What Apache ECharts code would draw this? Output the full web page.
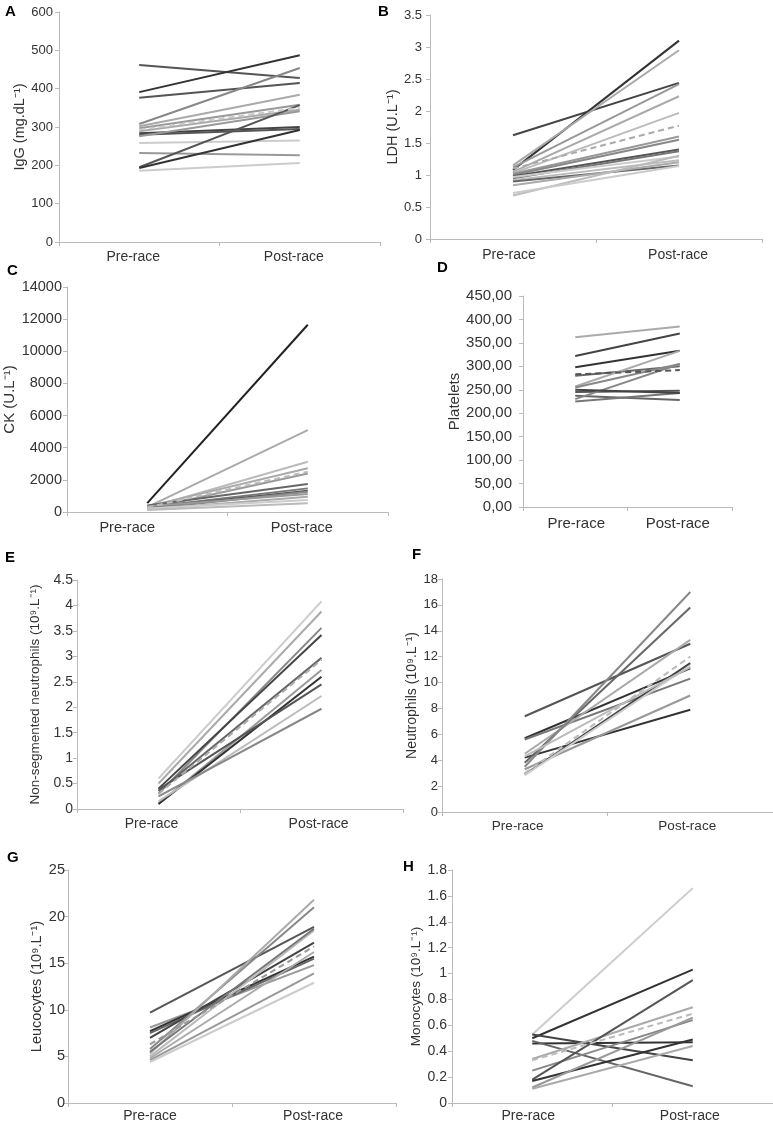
<!DOCTYPE html>
<html>
<head>
<meta charset="utf-8">
<script src="https://cdn.jsdelivr.net/npm/echarts@6/dist/echarts.min.js"></script>
<style>
  html, body { margin: 0; padding: 0; background: #fff; }
  #chart { width: 773px; height: 1130px; }
</style>
</head>
<body>
<div id="chart"></div>
<script>
// ---------- DATA ----------
const categories = ['Pre-race', 'Post-race'];

// A: IgG (mg.dL-1)
const igPre  = [462, 391, 376, 308, 302, 297, 293, 289, 284, 280, 276, 258, 232, 195, 193, 186];
const igPost = [428, 487, 415, 454, 384, 358, 350, 345, 300, 295, 341, 265, 226, 357, 292, 206];

// B: LDH (U.L-1)
const ldhPre  = [1.62, 1.08, 1.15, 1.12, 1.05, 1.03, 1.10, 1.02, 1.00, 0.98, 0.95, 0.97, 0.92, 0.90, 0.84, 0.68, 0.72];
const ldhPost = [2.44, 3.10, 2.95, 2.42, 2.23, 1.97, 1.77, 1.60, 1.55, 1.40, 1.37, 1.29, 1.23, 1.15, 1.20, 1.30, 1.14];

// C: CK (U.L-1)
const ckPre  = [550, 300, 250, 350, 280, 200, 400, 300, 250, 180, 350, 150, 220, 120];
const ckPost = [11650, 5100, 3130, 2720, 2510, 2400, 1740, 1470, 1330, 1260, 1120, 950, 750, 540];

// D: Platelets
const pltPre  = [362, 322, 298, 283, 280, 257, 255, 245, 237, 230, 225, 250];
const pltPost = [385, 370, 333, 292, 300, 333, 305, 248, 228, 305, 243, 243];

// E: Non-segmented neutrophils (10^9.L-1)
const nsnPre  = [0.60, 0.50, 0.30, 0.40, 0.35, 0.30, 0.10, 0.10, 0.38, 0.15, 0.25];
const nsnPost = [4.08, 3.88, 3.56, 3.42, 2.97, 2.93, 2.73, 2.60, 2.45, 2.22, 1.97];

// F: Neutrophils (10^9.L-1)
const neuPre  = [7.4, 5.7, 5.6, 4.5, 4.2, 3.8, 3.5, 3.3, 3.0, 2.9, 2.85, 4.3];
const neuPost = [13.0, 11.1, 10.3, 13.3, 7.9, 15.8, 17.0, 9.0, 12.0, 11.5, 11.3, 11.2];

// G: Leucocytes (10^9.L-1)
const leuPre  = [9.7, 8.1, 7.7, 7.5, 7.0, 5.8, 5.3, 5.0, 4.8, 4.6, 4.4, 5.5, 6.3];
const leuPost = [18.9, 14.8, 15.7, 15.5, 17.2, 21.0, 21.8, 18.5, 16.2, 13.9, 12.9, 18.7, 16.8];

// H: Monocytes (10^9.L-1)
const monPre  = [0.53, 0.50, 0.46, 0.53, 0.48, 0.34, 0.33, 0.25, 0.18, 0.17, 0.12, 0.11];
const monPost = [1.66, 1.03, 0.47, 0.33, 0.13, 0.74, 0.69, 0.64, 0.95, 0.49, 0.66, 0.44];

// ---------- STYLES (line colours, dashed mean line index) ----------
const igColors  = ['#555','#333','#555','#888','#aaa','#999','#c8c8c8','#aaa','#444','#555','#999','#ccc','#999','#555','#333','#ccc'];
const ldhColors = ['#444','#333','#aaa','#999','#aaa','#bbb','#aaa','#999','#888','#555','#777','#ccc','#bbb','#666','#aaa','#bbb','#ccc'];
const ckColors  = ['#222','#aaa','#bbb','#aaa','#bbb','#999','#666','#777','#555','#888','#999','#aaa','#ccc','#bbb'];
const pltColors = ['#aaa','#444','#333','#555','#666','#aaa','#888','#555','#666','#888','#777','#444'];
const nsnColors = ['#ccc','#aaa','#888','#444','#666','#aaa','#999','#333','#555','#bbb','#888'];
const neuColors = ['#555','#333','#777','#aaa','#333','#666','#888','#999','#bbb','#444','#ccc','#bbb'];
const leuColors = ['#555','#999','#333','#666','#444','#888','#aaa','#bbb','#aaa','#999','#ccc','#777','#999'];
const monColors = ['#ccc','#333','#333','#444','#666','#aaa','#bbb','#888','#555','#333','#999','#aaa'];

const FONT = 'Liberation Sans, Arial, Helvetica, sans-serif';

const panels = [
  { letter:'A', lp:[5,12],  name:'IgG (mg.dL⁻¹)', pre:igPre, post:igPost, colors:igColors, dashed:6,
    grid:{left:59, top:12, width:321, height:230}, max:600, interval:100,
    tickFont:13, catFont:14, nameFont:14.5, nameGap:32, labelMargin:6, catMargin:8, shift:[-6,-6] },
  { letter:'B', lp:[378,12], name:'LDH (U.L⁻¹)', pre:ldhPre, post:ldhPost, colors:ldhColors, dashed:6,
    grid:{left:430, top:15, width:332, height:224}, max:3.5, interval:0.5,
    tickFont:13, catFont:14, nameFont:14.5, nameGap:30, labelMargin:8, catMargin:9, shift:[-4,-1] },
  { letter:'C', lp:[7,271], name:'CK (U.L⁻¹)', pre:ckPre, post:ckPost, colors:ckColors, dashed:4,
    grid:{left:67, top:287, width:321, height:225}, max:14000, interval:2000,
    tickFont:14.5, catFont:14.5, nameFont:15, nameGap:46, labelMargin:5, catMargin:8, shift:[-20,-6],
    fmt: v => String(v) },
  { letter:'D', lp:[437,268], name:'Platelets', pre:pltPre, post:pltPost, colors:pltColors, dashed:3,
    grid:{left:523, top:296, width:209, height:211}, max:450, interval:50,
    tickFont:15, catFont:15, nameFont:15, nameGap:61, labelMargin:11, catMargin:9, shift:[1,-2],
    fmt: v => v.toFixed(2).replace('.', ',') },
  { letter:'E', lp:[5,558], name:'Non-segmented neutrophils (10⁹.L⁻¹)', pre:nsnPre, post:nsnPost, colors:nsnColors, dashed:5,
    grid:{left:77, top:580, width:326, height:229}, max:4.5, interval:0.5,
    tickFont:14, catFont:14, nameFont:13.5, nameGap:35, labelMargin:4, catMargin:8, shift:[-7,-3] },
  { letter:'F', lp:[412,555], name:'Neutrophils (10⁹.L⁻¹)', pre:neuPre, post:neuPost, colors:neuColors, dashed:8,
    grid:{left:442, top:579, width:332, height:233}, max:18, interval:2,
    tickFont:13, catFont:13.5, nameFont:14, nameGap:21, labelMargin:4, catMargin:7, shift:[-7,-3] },
  { letter:'G', lp:[7,858], name:'Leucocytes (10⁹.L⁻¹)', pre:leuPre, post:leuPost, colors:leuColors, dashed:12,
    grid:{left:68, top:870, width:328, height:233}, max:25, interval:5,
    tickFont:14.5, catFont:14, nameFont:14.5, nameGap:21, labelMargin:3, catMargin:6, shift:[0,-1] },
  { letter:'H', lp:[403,867], name:'Monocytes (10⁹.L⁻¹)', pre:monPre, post:monPost, colors:monColors, dashed:6,
    grid:{left:452, top:870, width:326, height:233}, max:1.8, interval:0.2,
    tickFont:14, catFont:14, nameFont:13.5, nameGap:26, labelMargin:5, catMargin:6, shift:[-4,-3] }
];

function pad(s) { return s < 0 ? [0, -2 * s, 0, 0] : [0, 0, 0, 2 * s]; }

const grids = [], xAxes = [], yAxes = [], series = [], graphics = [];
panels.forEach((p, k) => {
  grids.push(Object.assign({ containLabel: false }, p.grid));
  xAxes.push({
    type: 'category', gridIndex: k, data: categories, boundaryGap: true,
    axisLine: { lineStyle: { color: '#bbb', width: 1 } },
    axisTick: { show: true, length: 4, lineStyle: { color: '#bbb' } },
    axisLabel: {
      interval: 0, margin: p.catMargin, color: '#333', fontFamily: FONT, fontSize: p.catFont,
      formatter: (v, i) => '{s' + i + '|' + v + '}',
      rich: {
        s0: { padding: pad(p.shift[0]), fontSize: p.catFont, fontFamily: FONT, color: '#333' },
        s1: { padding: pad(p.shift[1]), fontSize: p.catFont, fontFamily: FONT, color: '#333' }
      }
    }
  });
  yAxes.push({
    type: 'value', gridIndex: k, min: 0, max: p.max, interval: p.interval,
    axisLine: { show: true, lineStyle: { color: '#bbb', width: 1 } },
    axisTick: { show: true, length: 4, lineStyle: { color: '#bbb' } },
    splitLine: { show: false },
    axisLabel: { margin: p.labelMargin, color: '#333', fontFamily: FONT, fontSize: p.tickFont,
                 formatter: p.fmt ? p.fmt : undefined },
    name: p.name, nameLocation: 'middle', nameGap: p.nameGap,
    nameTextStyle: { color: '#333', fontFamily: FONT, fontSize: p.nameFont }
  });
  p.pre.forEach((v, i) => {
    series.push({
      type: 'line', xAxisIndex: k, yAxisIndex: k, data: [v, p.post[i]],
      symbol: 'none', silent: true, animation: false,
      lineStyle: { color: p.colors[i], width: 2, type: i === p.dashed ? [6, 4] : 'solid' },
      z: i === p.dashed ? 3 : 2
    });
  });
  graphics.push({
    type: 'text', x: p.lp[0], y: p.lp[1],
    style: { text: p.letter, fill: '#000', font: 'bold 15px ' + FONT, textVerticalAlign: 'middle', textAlign: 'left' }
  });
});

const chart = echarts.init(document.getElementById('chart'), null, { renderer: 'canvas' });
chart.setOption({
  backgroundColor: '#fff',
  animation: false,
  grid: grids, xAxis: xAxes, yAxis: yAxes, series: series, graphic: graphics
});
</script>
</body>
</html>
